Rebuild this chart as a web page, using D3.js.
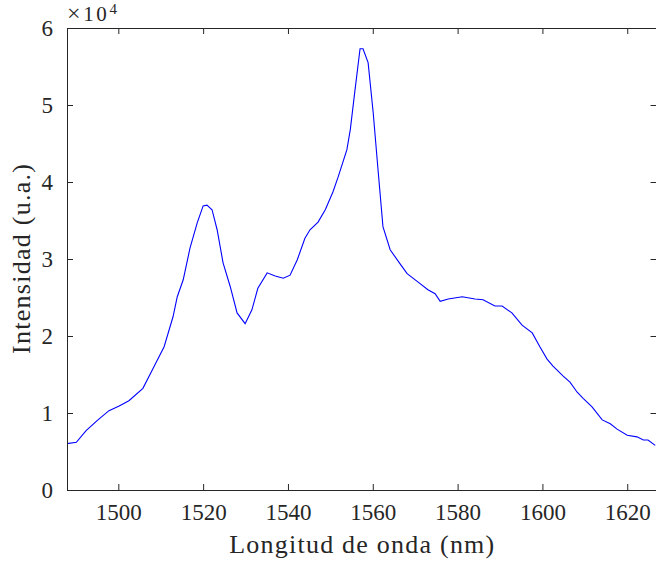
<!DOCTYPE html>
<html>
<head>
<meta charset="utf-8">
<script src="https://d3js.org/d3.v7.min.js"></script>
<style>
  body { margin: 0; background: #fff; }
  text { font-family: "Liberation Serif", "DejaVu Serif", serif; fill: #262626; }
</style>
</head>
<body>
<div id="chart"></div>
<script>
var width = 656,
    height = 563;

// espectro (nm, cuentas)
var wavelength = [1487.7, 1490.1, 1492.4, 1495.2, 1497.8, 1500.2, 1502.5, 1505.8, 1508.4, 1510.8,
    1512.9, 1513.9, 1515.3, 1516.9, 1518.6, 1520.0, 1520.9, 1522.1, 1523.3, 1524.7,
    1526.4, 1528.0, 1529.9, 1531.5, 1532.9, 1535.1, 1537.0, 1538.9, 1540.5, 1542.2,
    1544.0, 1545.2, 1547.1, 1548.8, 1550.6, 1551.8, 1553.9, 1554.7, 1555.8, 1557.0,
    1557.7, 1558.9, 1560.1, 1561.3, 1562.4, 1564.1, 1566.4, 1568.1, 1570.7, 1573.0,
    1574.7, 1575.9, 1577.8, 1581.1, 1584.1, 1586.0, 1588.8, 1590.5, 1592.8, 1595.2,
    1597.6, 1599.4, 1601.1, 1602.5, 1604.9, 1606.5, 1608.2, 1609.6, 1611.7, 1614.1,
    1616.0, 1617.6, 1620.0, 1622.3, 1623.8, 1624.9, 1626.6];
var intensity = [6000, 6200, 7700, 9100, 10300, 10900, 11600, 13200, 16000, 18600,
    22500, 25100, 27300, 31400, 34700, 36900, 37000, 36400, 33800, 29500,
    26400, 23000, 21600, 23400, 26200, 28200, 27800, 27500, 27900, 29900,
    32700, 33800, 34800, 36400, 38700, 40600, 44200, 46800, 51900, 57300,
    57300, 55500, 49000, 41200, 34200, 31200, 29400, 28100, 27000, 26000,
    25500, 24500, 24800, 25100, 24800, 24700, 23900, 23900, 23000, 21400,
    20400, 18600, 17000, 16100, 14800, 14000, 12700, 11900, 10800, 9100,
    8600, 7900, 7100, 6900, 6500, 6500, 5800];

var xTicks = [1500, 1520, 1540, 1560, 1580, 1600, 1620];
var yTicks = [0, 10000, 20000, 30000, 40000, 50000, 60000];

var axLeft = 67, axRight = 656.5, axTop = 28, axBottom = 490;

var svg = d3.select('#chart').append('svg')
    .attr('width', width)
    .attr('height', height);

var x = d3.scaleLinear().domain([1487.9, 1626.9]).range([axLeft, axRight]);
var y = d3.scaleLinear().domain([0, 60000]).range([axBottom, axTop]);

svg.append('clipPath').attr('id', 'clip')
    .append('rect')
    .attr('x', axLeft).attr('y', axTop)
    .attr('width', axRight - axLeft).attr('height', axBottom - axTop);

var line = d3.line()
    .x(function(d) { return x(d[0]); })
    .y(function(d) { return y(d[1]); });

var pts = wavelength.map(function(w, i) { return [w, intensity[i]]; });

svg.append('path')
    .datum(pts)
    .attr('clip-path', 'url(#clip)')
    .attr('fill', 'none')
    .attr('stroke', '#0000ff')
    .attr('stroke-width', 1.1)
    .attr('d', line);

// ejes
var fmtY = function(d) { return d / 10000; };
var fmtX = d3.format('d');

var gx = svg.append('g')
    .attr('transform', 'translate(0,' + axBottom + ')')
    .call(d3.axisBottom(x).tickValues(xTicks).tickSizeInner(-6).tickSizeOuter(0).tickPadding(14).tickFormat(fmtX));
var gxTop = svg.append('g')
    .attr('transform', 'translate(0,' + axTop + ')')
    .call(d3.axisTop(x).tickValues(xTicks).tickSizeInner(-6).tickSizeOuter(0).tickFormat(''));
var gy = svg.append('g')
    .attr('transform', 'translate(' + axLeft + ',0)')
    .call(d3.axisLeft(y).tickValues(yTicks).tickSizeInner(-6).tickSizeOuter(0).tickPadding(16).tickFormat(fmtY));
var gyRight = svg.append('g')
    .attr('transform', 'translate(' + axRight + ',0)')
    .call(d3.axisRight(y).tickValues(yTicks).tickSizeInner(-6).tickSizeOuter(0).tickFormat(''));

[gx, gxTop, gy, gyRight].forEach(function(g) {
    g.select('.domain').attr('stroke', '#262626').attr('stroke-width', 1);
    g.selectAll('.tick line').attr('stroke', '#262626').attr('stroke-width', 1);
    g.selectAll('.tick text')
        .attr('font-family', '"Liberation Serif", serif')
        .attr('font-size', 23)
        .attr('fill', '#262626');
});
gy.selectAll('.tick text').attr('dx', '2px');

// multiplicador
var mult = svg.append('text')
    .attr('x', 67)
    .attr('y', 21)
    .attr('font-size', 21)
    .attr('textLength', 50)
    .attr('lengthAdjust', 'spacing');
mult.append('tspan').attr('font-size', 24).text('\u00d7');
mult.append('tspan').text('10');
mult.append('tspan').attr('dy', -7).attr('font-size', 15).text('4');

svg.append('text')
    .attr('x', (axLeft + axRight) / 2)
    .attr('y', 553)
    .attr('text-anchor', 'middle')
    .attr('font-size', 26)
    .attr('textLength', 265)
    .attr('lengthAdjust', 'spacing')
    .text('Longitud de onda (nm)');

svg.append('text')
    .attr('transform', 'translate(30,' + ((axTop + axBottom) / 2) + ') rotate(-90)')
    .attr('text-anchor', 'middle')
    .attr('font-size', 26)
    .attr('textLength', 190)
    .attr('lengthAdjust', 'spacing')
    .text('Intensidad (u.a.)');
</script>
</body>
</html>
